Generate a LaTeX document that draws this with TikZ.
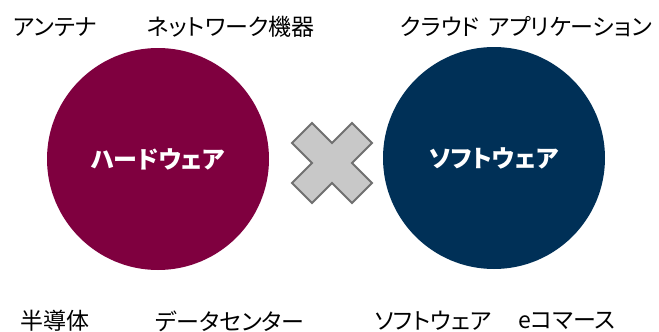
\documentclass[tikz,border=0pt]{standalone}
\usepackage{fontspec}
\usetikzlibrary{calc}
\newfontfamily\jp[RawFeature=+palt]{Noto Sans CJK JP}
\definecolor{hwred}{RGB}{127,0,63}
\definecolor{swblue}{RGB}{0,48,87}
\definecolor{crossfill}{RGB}{200,200,200}
\definecolor{crossline}{RGB}{112,112,112}
\tikzset{
  lbl/.style={font=\jp\fontsize{23}{25}\selectfont, text=black, inner sep=0pt, anchor=center},
  ctext/.style={font=\jp\bfseries\fontsize{24}{26}\selectfont, text=white, inner sep=0pt},
  bigcircle/.style={circle, minimum size=222pt, inner sep=0pt, draw=none},
  crossstyle/.style={fill=crossfill, draw=crossline, line width=2pt, line join=miter}
}
\begin{document}
\begin{tikzpicture}[x=1pt,y=-1pt]
\useasboundingbox (0,0) rectangle (659,332);
\node[bigcircle, fill=hwred] (hw) at (158,159) {};
\node[bigcircle, fill=swblue] (sw) at (494,158) {};
\node[ctext] (hwt) at (hw.center) {ハードウェア};
\node[ctext] (swt) at (sw.center) {ソフトウェア};
\coordinate (x) at (332,163);
\draw[crossstyle] ($(x)+(-40,-20)$) -- ++(20,-20) -- ++(20,20) -- ++(20,-20) -- ++(20,20)
  -- ++(-20,20) -- ++(20,20) -- ++(-20,20) -- ++(-20,-20) -- ++(-20,20) -- ++(-20,-20) -- ++(20,-20) -- cycle;
\node[lbl] (a1) at (55,27) {アンテナ};
\node[lbl] (a2) at (231,27) {ネットワーク機器};
\node[lbl] (a3) at (440,27) {クラウド};
\node[lbl] (a4) at (570,27) {アプリケーション};
\node[lbl] (b1) at (55,321) {半導体};
\node[lbl] (b2) at (230,321) {データセンター};
\node[lbl] (b3) at (433,321) {ソフトウェア};
\node[lbl] (b4) at (567,321) {eコマース};
\end{tikzpicture}
\end{document}
